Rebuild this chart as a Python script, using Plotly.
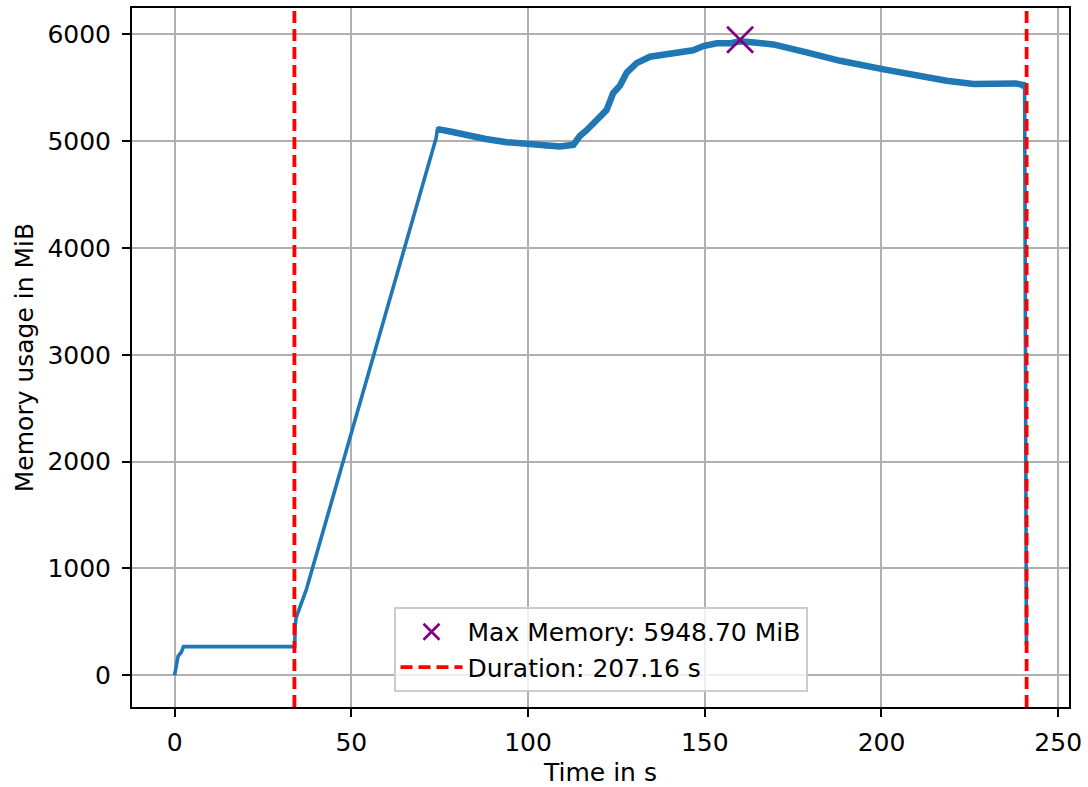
import plotly.graph_objects as go

# ---- data ----
time_s = [0, 0.5, 1.0, 1.9, 2.5, 10, 20, 34.0, 34.1, 34.4, 37.3, 50, 60.9, 74.0, 74.3, 74.8,
          78, 82, 88, 94, 100, 103, 106, 109, 112.8, 114.7, 116.5, 118.4, 120.5, 122.2,
          124.1, 126, 127.9, 130.7, 134.5, 137.3, 142, 146.7, 149.6, 153.4, 157, 160,
          164.7, 169.4, 178.8, 188.3, 200.3, 209.9, 218.4, 226, 230, 235.4, 238, 240.2,
          240.5, 241.0]
memory_mib = [0, 120, 180, 215, 268, 268, 268, 268, 460, 540, 805, 2265, 3520, 5030, 5100, 5110,
              5090, 5060, 5020, 4990, 4970, 4955, 4945, 4950, 4965, 5050, 5100, 5160, 5220, 5290,
              5450, 5520, 5640, 5730, 5790, 5805, 5820, 5850, 5890, 5915, 5915, 5935,
              5920, 5905, 5830, 5752, 5674, 5612, 5565, 5534, 5540, 5545, 5540, 5525,
              5500, 280]

noisy_start = 74.3      # from here the sampled curve is visibly noisy (thick band)
noisy_end = 240.5

max_time = 160.0
max_memory = 5948.70
start_time = 33.90
end_time = 241.06
duration = end_time - start_time

x_ticks = [0, 50, 100, 150, 200, 250]
y_ticks = [0, 1000, 2000, 3000, 4000, 5000, 6000]

# matplotlib-like auto limits with 5% margins
x_min, x_max = min(time_s), max(time_s)
y_min, y_max = min(memory_mib), max_memory
x_range = [x_min - 0.05 * (x_max - x_min), x_max + 0.05 * (x_max - x_min)]
y_range = [y_min - 0.05 * (y_max - y_min), y_max + 0.05 * (y_max - y_min)]

BLUE = "#1f77b4"
FONT = "DejaVu Sans"
FS = 25

fig = go.Figure()

fig.add_trace(go.Scatter(x=time_s, y=memory_mib, mode="lines",
                         line=dict(color=BLUE, width=3.6), showlegend=False,
                         hoverinfo="skip"))

nx = [t for t in time_s if noisy_start <= t <= noisy_end]
ny = [m for t, m in zip(time_s, memory_mib) if noisy_start <= t <= noisy_end]
fig.add_trace(go.Scatter(x=nx, y=ny, mode="lines",
                         line=dict(color=BLUE, width=6.5), showlegend=False,
                         hoverinfo="skip"))

fig.add_trace(go.Scatter(x=[max_time], y=[max_memory], mode="markers",
                         marker=dict(symbol="x-thin", size=26, color="purple",
                                     line=dict(color="purple", width=2.6)),
                         name=f"Max Memory: {max_memory:.2f} MiB"))

for t in (start_time, end_time):
    fig.add_shape(type="line", xref="x", yref="paper", x0=t, x1=t, y0=0, y1=1,
                  line=dict(color="red", width=3.8, dash="12px,6px"))

fig.add_trace(go.Scatter(x=[None], y=[None], mode="lines",
                         line=dict(color="red", width=3.8, dash="12px,6px"),
                         name=f"Duration: {duration:.2f} s"))

axis_common = dict(showline=True, linecolor="black", linewidth=2, mirror=True,
                   ticks="outside", ticklen=8, tickwidth=2, tickcolor="black",
                   showgrid=True, gridcolor="#b0b0b0", gridwidth=2, zeroline=False,
                   automargin=False,
                   tickfont=dict(family=FONT, size=FS, color="black"))

fig.update_xaxes(range=x_range, tickvals=x_ticks, ticklabelstandoff=4,
                 title=dict(text="Time in s", font=dict(family=FONT, size=FS, color="black"),
                            standoff=8),
                 **axis_common)
fig.update_yaxes(range=y_range, tickvals=y_ticks, ticklabelstandoff=6,
                 title=dict(text="Memory usage in MiB", font=dict(family=FONT, size=FS, color="black"),
                            standoff=7),
                 **axis_common)

fig.update_layout(
    width=1088, height=787,
    margin=dict(l=132, r=19, t=8, b=80),
    paper_bgcolor="white", plot_bgcolor="white",
    font=dict(family=FONT, size=FS, color="black"),
    legend=dict(x=0.5, y=0.0215, xanchor="center", yanchor="bottom",
                bgcolor="rgba(255,255,255,0.8)", bordercolor="#cccccc", borderwidth=2,
                font=dict(family=FONT, size=FS, color="black"),
                itemwidth=62, tracegroupgap=0),
)

fig.write_html("out.html")
